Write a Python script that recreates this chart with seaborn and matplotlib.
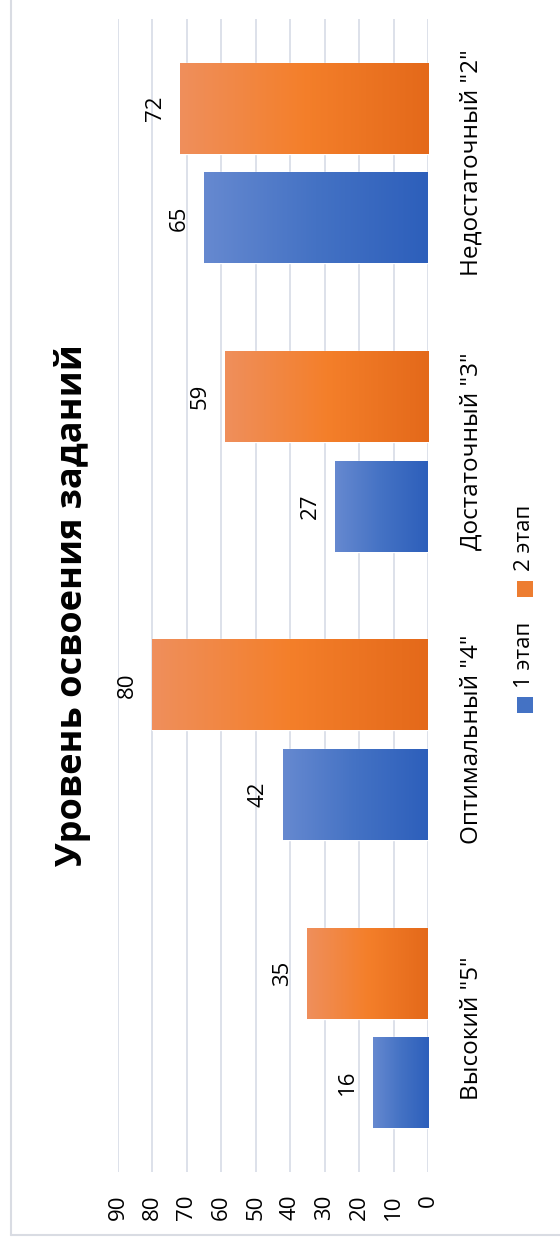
import numpy as np
import pandas as pd
import matplotlib
matplotlib.use("Agg")
import matplotlib.pyplot as plt
import seaborn as sns
from matplotlib.colors import LinearSegmentedColormap
from matplotlib import transforms
from matplotlib.patches import Rectangle
from matplotlib.lines import Line2D

# ---- data ----
categories = ['Высокий "5"', 'Оптимальный "4"', 'Достаточный "3"', 'Недостаточный "2"']
series = ['1 этап', '2 этап']
stage1 = [16, 42, 27, 65]
stage2 = [35, 80, 59, 72]
ticks = [0, 10, 20, 30, 40, 50, 60, 70, 80, 90]
title = 'Уровень освоения заданий'

sns.set_theme(style="white")
plt.rcParams['font.family'] = ['Open Sans', 'DejaVu Sans']

df = pd.DataFrame({
    'cat': categories * 2,
    'val': stage1 + stage2,
    'stage': [series[0]] * len(categories) + [series[1]] * len(categories),
})

W, H = 560, 1247
fig = plt.figure(figsize=(W / 100, H / 100), dpi=100)
fig.patch.set_facecolor('white')
ax = fig.add_axes([118 / W, 1 - 1172 / H, 310 / W, 1153 / H])

sns.barplot(data=df, y='cat', x='val', hue='stage', order=categories,
            hue_order=series, orient='h', width=0.76, gap=0.17,
            palette=['#4472c4', '#ed7d31'], legend=False, errorbar=None, ax=ax)

ax.set_xlim(90, 0)
ax.set_ylim(-0.5, 3.5)

cmaps = [
    LinearSegmentedColormap.from_list('b', ['#2d5fbb', '#4472c4', '#6689d0']),
    LinearSegmentedColormap.from_list('o', ['#e4691a', '#f47f2a', '#ef8f5c']),
]
grad = np.linspace(0, 1, 256).reshape(1, -1)
for cont, cmap in zip(ax.containers, cmaps):
    for p in cont:
        v = p.get_width()
        y0 = p.get_y()
        y1 = y0 + p.get_height()
        im = ax.imshow(grad, extent=[0, v, y0, y1], aspect='auto', cmap=cmap,
                       zorder=p.get_zorder() + 0.1, interpolation='bilinear')
        im.set_clip_path(p)
        ax.annotate(f'{int(round(v))}', xy=(v, (y0 + y1) / 2), xytext=(-18, 0),
                    textcoords='offset points', rotation=90, ha='center',
                    va='center', fontsize=16, color='#000000')

ax.set_xlim(90, 0)
ax.set_ylim(-0.5, 3.5)
ax.set_aspect('auto')

ax.set_axisbelow(True)
ax.grid(axis='x', color='#dde1ea', linewidth=1.4)
ax.grid(axis='y', visible=False)
for s in ax.spines.values():
    s.set_visible(False)
ax.set_xticks(ticks)
ax.set_xticklabels([str(t) for t in ticks], rotation=90, fontsize=16, color='#000000')
ax.tick_params(axis='x', length=0, pad=16)
ax.set_yticks([])
ax.set_xlabel('')
ax.set_ylabel('')

trans = transforms.blended_transform_factory(fig.transFigure, ax.transData)
for i, c in enumerate(categories):
    ax.text(472 / W, i, c, transform=trans, rotation=90, ha='center', va='center',
            fontsize=17.5, color='#000000', clip_on=False)

fig.text(73 / W, 1 - 605 / H, title, rotation=90, ha='center', va='center',
         fontsize=26, fontweight='bold', color='#000000')

# legend (manual, rotated)
leg_items = [(series[0], 705, 655, '#4472c4'), (series[1], 589, 538, '#ed7d31')]
for name, py, ty, col in leg_items:
    fig.add_artist(Rectangle(((525 - 8) / W, 1 - (py + 8) / H), 16 / W, 16 / H,
                             transform=fig.transFigure, facecolor=col, edgecolor='none'))
    fig.text(525 / W, 1 - ty / H, name, rotation=90, ha='center', va='center',
             fontsize=16, color='#000000')

# chart border
fig.add_artist(Line2D([11 / W, 11 / W], [1 - 1235 / H, 1], transform=fig.transFigure,
                      color='#d9dce3', linewidth=1.5))
fig.add_artist(Line2D([11 / W, 1], [1 - 1235 / H, 1 - 1235 / H], transform=fig.transFigure,
                      color='#d9dce3', linewidth=1.5))

fig.savefig('out.png', dpi=100)
